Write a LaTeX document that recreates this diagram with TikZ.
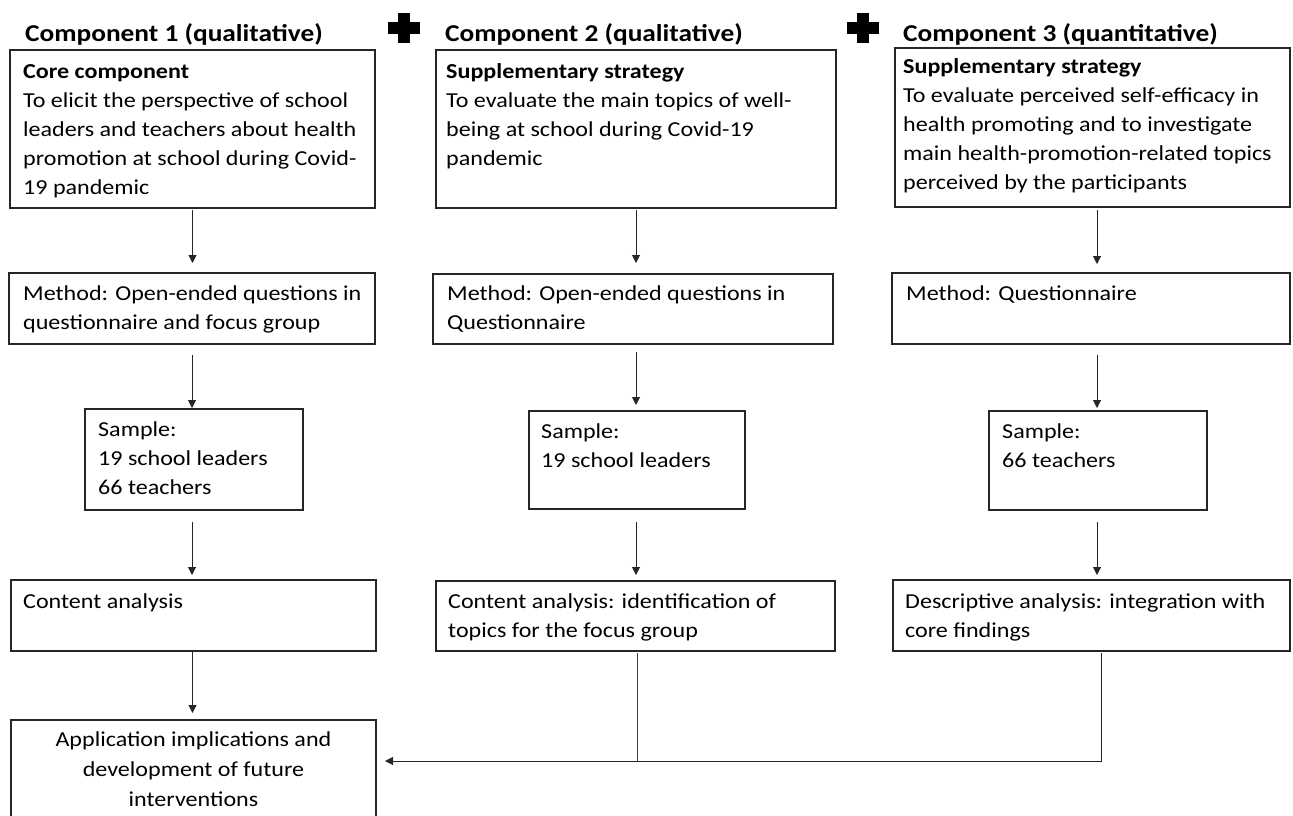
\documentclass[tikz,border=0pt]{standalone}
\usepackage{fontspec}
\setmainfont{Carlito}[FakeStretch=1.13]
\usetikzlibrary{arrows.meta,calc}
\newcommand{\mylines}[1]{\parbox[t]{420pt}{#1}}
\newcommand{\mycentered}[1]{\parbox[t]{360pt}{\centering #1}}
\begin{document}
\begin{tikzpicture}[x=1pt,y=-1pt,
  box/.style={draw=black!85, line width=1.1pt, anchor=north west, inner sep=0pt, outer sep=0pt},
  txt/.style={anchor=base west, inner sep=0pt, font=\fontsize{21.3}{29}\selectfont},
  ctxt/.style={anchor=base, inner sep=0pt, font=\fontsize{21.3}{30}\selectfont},
  hdr/.style={anchor=base west, inner sep=0pt, font=\fontsize{24.2}{28}\selectfont\bfseries},
  arr/.style={draw=black!85, line width=1pt, -{Triangle[length=8pt,width=8pt]}},
  ln/.style={draw=black!75, line width=1pt}]
\useasboundingbox (0,0) rectangle (1293,815);
\clip (0,0) rectangle (1293,815);
\fill[white] (0,0) rectangle (1293,815);

% headers
\node[hdr] (h1) at (25,41) {Component 1 (qualitative)};
\node[hdr] (h2) at (445,41) {Component 2 (qualitative)};
\node[hdr] (h3) at (903,41) {Component 3 (quantitative)};

% plus signs
\fill[black] (404-6,28-15) rectangle (404+6,28+15);
\fill[black] (404-16,28-6) rectangle (404+16,28+6);
\fill[black] (863-6,28-15) rectangle (863+6,28+15);
\fill[black] (863-16,28-6) rectangle (863+16,28+6);

% row 1
\node[box, minimum width=365pt, minimum height=158pt] (c1a) at (10,50) {};
\node[box, minimum width=400pt, minimum height=158pt] (c2a) at (436,50) {};
\node[box, minimum width=395pt, minimum height=159pt] (c3a) at (895,48) {};
\node[txt] (t1a) at ($(c1a.north west)+(13,28)$) {\mylines{\textbf{Core component}\\To elicit the perspective of school\\leaders and teachers about health\\promotion at school during Covid-\\19 pandemic}};
\node[txt] (t2a) at ($(c2a.north west)+(10,28)$) {\mylines{\textbf{Supplementary strategy}\\To evaluate the main topics of well-\\being at school during Covid-19\\pandemic}};
\node[txt] (t3a) at ($(c3a.north west)+(8,25)$) {\mylines{\textbf{Supplementary strategy}\\To evaluate perceived self-efficacy in\\health promoting and to investigate\\main health-promotion-related topics\\perceived by the participants}};

% row 2
\node[box, minimum width=366pt, minimum height=71pt] (c1b) at (9,273) {};
\node[box, minimum width=400pt, minimum height=70pt] (c2b) at (433,274) {};
\node[box, minimum width=398pt, minimum height=71pt] (c3b) at (892,273) {};
\node[txt] (t1b) at ($(c1b.north west)+(14,27)$) {\mylines{Method: Open-ended questions in\\questionnaire and focus group}};
\node[txt] (t2b) at ($(c2b.north west)+(14,26)$) {\mylines{Method: Open-ended questions in\\Questionnaire}};
\node[txt] (t3b) at ($(c3b.north west)+(14,27)$) {\mylines{Method: Questionnaire}};

% row 3
\node[box, minimum width=218pt, minimum height=101pt] (c1c) at (85,409) {};
\node[box, minimum width=216pt, minimum height=98pt] (c2c) at (529,411) {};
\node[box, minimum width=218pt, minimum height=99pt] (c3c) at (989,411) {};
\node[txt] (t1c) at ($(c1c.north west)+(13,27)$) {\mylines{Sample:\\19 school leaders\\66 teachers}};
\node[txt] (t2c) at ($(c2c.north west)+(12,27)$) {\mylines{Sample:\\19 school leaders}};
\node[txt] (t3c) at ($(c3c.north west)+(13,27)$) {\mylines{Sample:\\66 teachers}};

% row 4
\node[box, minimum width=365pt, minimum height=71pt] (c1d) at (11,580) {};
\node[box, minimum width=399pt, minimum height=70pt] (c2d) at (436,581) {};
\node[box, minimum width=397pt, minimum height=71pt] (c3d) at (893,580) {};
\node[txt] (t1d) at ($(c1d.north west)+(12,28)$) {\mylines{Content analysis}};
\node[txt] (t2d) at ($(c2d.north west)+(12,27)$) {\mylines{Content analysis: identification of\\topics for the focus group}};
\node[txt] (t3d) at ($(c3d.north west)+(12,28)$) {\mylines{Descriptive analysis: integration with\\core findings}};

% final box
\node[box, minimum width=365pt, minimum height=120pt] (app) at (11,720) {};
\node[ctxt] (tapp) at ($(app.north)+(0,26)$) {\mycentered{Application implications and\\development of future\\interventions}};

% vertical arrows, component 1
\draw[arr] ($(c1a.south)+(0,2)$) -- ($(c1a.south |- c1b.north)+(0,-10)$);
\draw[arr] ($(c1b.south)+(0,11)$) -- ($(c1b.south |- c1c.north)+(0,-1)$);
\draw[arr] ($(c1c.south)+(-2,12)$) -- ($(c1c.south |- c1d.north)+(-2,-5)$);
\draw[arr] ($(c1d.south)+(-1,0)$) -- ($(c1d.south |- app.north)+(-1,-7)$);
% component 2
\draw[arr] ($(c2a.south)+(0,2)$) -- ($(c2a.south |- c2b.north)+(0,-11)$);
\draw[arr] ($(c2a.south |- c2b.south)+(0,8)$) -- ($(c2a.south |- c2c.north)+(0,-6)$);
\draw[arr] ($(c2a.south |- c2c.south)+(0,13)$) -- ($(c2a.south |- c2d.north)+(0,-6)$);
% component 3
\draw[arr] ($(c3a.south)+(4.5,3)$) -- ($(c3a.south |- c3b.north)+(4.5,-9)$);
\draw[arr] ($(c3a.south |- c3b.south)+(4.5,11)$) -- ($(c3a.south |- c3c.north)+(4.5,-3)$);
\draw[arr] ($(c3a.south |- c3c.south)+(4.5,12)$) -- ($(c3a.south |- c3d.north)+(4.5,-5)$);

% feedback lines
\coordinate (k2) at (637,761);
\coordinate (k3) at (1101,761);
\draw[ln] ($(c2d.south -| k2)+(0,2)$) -- (k2);
\draw[arr] ($(c3d.south -| k3)+(0,2)$) -- (k3) -- ($(app.east |- k3)+(9,0)$);
\end{tikzpicture}
\end{document}
